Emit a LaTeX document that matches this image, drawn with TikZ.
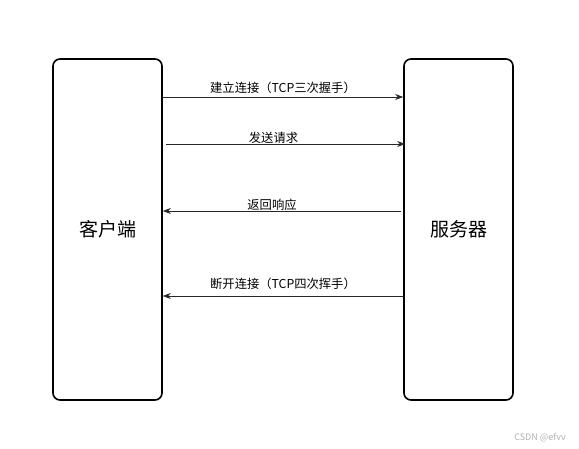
\documentclass[tikz,border=0pt]{standalone}
\usepackage{fontspec}
\setmainfont{Noto Sans CJK SC}
\usetikzlibrary{arrows.meta}
\begin{document}
\begin{tikzpicture}[x=1pt,y=-1pt,
  party/.style={draw=black,line width=1.6pt,rounded corners=7pt,minimum width=109pt,minimum height=341pt,inner sep=0pt,font=\fontsize{19}{21}\selectfont},
  msg/.style={draw=black!85,line width=0.8pt,-{Stealth[length=8pt,width=6pt]}},
  lbl/.style={font=\fontsize{12.3}{14}\selectfont,inner sep=1pt}]
\useasboundingbox[fill=white] (0,0) rectangle (579,449);
\node[party] (c) at (107.5,229.5) {客户端};
\node[party] (s) at (458.5,229.5) {服务器};
\coordinate (a1) at (c.east |- 0,97);
\coordinate (b1) at (s.west |- 0,97);
\coordinate (a2) at ([xshift=3pt]c.east |- 0,144);
\coordinate (b2) at ([xshift=2pt]s.west |- 0,144);
\coordinate (a3) at (c.east |- 0,211);
\coordinate (b3) at ([xshift=-2pt]s.west |- 0,211);
\coordinate (a4) at (c.east |- 0,296);
\coordinate (b4) at (s.west |- 0,296);
\draw[msg] (a1) -- node[lbl,above=2pt] (l1) {建立连接（TCP三次握手）} (b1);
\draw[msg] (a2) -- node[lbl,above=-1pt,xshift=-12pt] (l2) {发送请求} (b2);
\draw[msg] (b3) -- node[lbl,above=-1pt,xshift=-10pt] (l3) {返回响应} (a3);
\draw[msg] (b4) -- node[lbl,above=5pt] (l4) {断开连接（TCP四次挥手）} (a4);
\node[font=\fontsize{9}{11}\selectfont,text=black!30] (wm) at (540,438) {CSDN @efvv};
\end{tikzpicture}
\end{document}
